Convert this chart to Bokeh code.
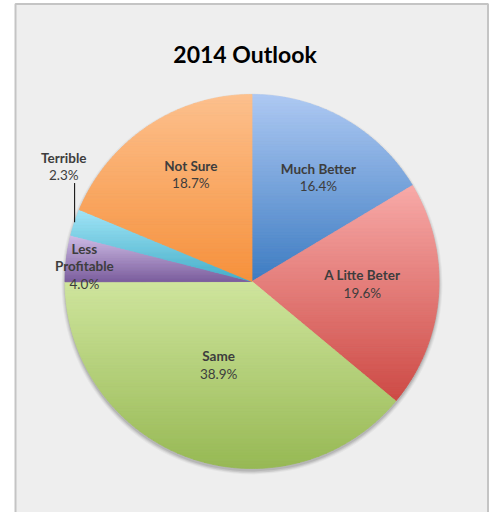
import numpy as np
from bokeh.plotting import figure
from bokeh.models import Range1d, ColumnDataSource, Label
from bokeh.core.properties import value
from bokeh.embed import file_html
from bokeh.resources import INLINE

# ---------------- data ----------------
title_text = "2014 Outlook"
categories = ["Much Better", "A Litte Beter", "Same", "Less Profitable", "Terrible", "Not Sure"]
display_labels = ["Much Better", "A Litte Beter", "Same", "Less\nProfitable", "Terrible", "Not Sure"]
percents = [16.4, 19.6, 38.9, 4.0, 2.3, 18.7]

# ---------------- styles / layout ----------------
light_colors = ["#aec9f3", "#f8aaa8", "#cfe59d", "#d0bee7", "#a2e6f8", "#fdc08d"]
dark_colors = ["#3d7cc2", "#cd4a45", "#97b954", "#7c5e9e", "#44aec9", "#f6913c"]
label_r = [0.66, 0.59, 0.48, 0.90, 1.18, 0.66]      # label distance (fraction of radius)
label_dang = [3.0, -3.0, 2.0, -2.0, 13.0, 4.0]      # label angle shift (degrees)

W, H = 491, 512
OX, OY = 0, 0              # page offset of the figure
CX, CY = 251.5, 281.0      # pie centre on the page (px)
R = 187.0
FONT = "Lato"
TXT = "#3d3d3d"

def px_x(x):
    return x - CX

def px_y(y):
    return CY - y

p = figure(width=W, height=H, output_backend="svg", toolbar_location=None,
           x_range=Range1d(px_x(OX), px_x(OX + W)), y_range=Range1d(px_y(OY + H), px_y(OY)),
           min_border=0, min_border_left=0, min_border_right=0,
           min_border_top=0, min_border_bottom=0)
p.axis.visible = False
p.grid.visible = False
p.outline_line_color = None
p.background_fill_color = "white"
p.border_fill_color = "white"

# chart area (grey panel with border)
p.quad(left=[px_x(15)], right=[px_x(487.5)], top=[px_y(3.5)], bottom=[px_y(540)],
       fill_color="#eeeeee", line_color="#c4c4c4", line_width=2)

# soft shadow under pie
for k, a in [(3.5, 0.04), (2.5, 0.05), (1.5, 0.07), (0.5, 0.09)]:
    p.circle(x=[0], y=[-2.5], radius=R + k, fill_color="black", fill_alpha=a, line_color=None)

def hex2rgb(h):
    h = h.lstrip("#")
    return np.array([int(h[i:i + 2], 16) for i in (0, 2, 4)], dtype=float)

def rgb2hex(c):
    c = np.clip(np.round(c), 0, 255).astype(int)
    return "#%02x%02x%02x" % tuple(c)

def clip_half(poly, y0, keep_above):
    out = []
    n = len(poly)
    for i in range(n):
        a = poly[i]
        b = poly[(i + 1) % n]
        ina = (a[1] >= y0) if keep_above else (a[1] <= y0)
        inb = (b[1] >= y0) if keep_above else (b[1] <= y0)
        if ina:
            out.append(a)
        if ina != inb:
            t = (y0 - a[1]) / (b[1] - a[1])
            out.append((a[0] + t * (b[0] - a[0]), y0))
    return out

total = sum(percents)
fracs = [v / total for v in percents]
starts = np.cumsum([0] + fracs[:-1]) * 2 * np.pi
ends = np.cumsum(fracs) * 2 * np.pi

bx, by, bc = [], [], []
NB = 60
for i in range(len(percents)):
    a0, a1 = starts[i], ends[i]
    n = max(3, int((a1 - a0) / (2 * np.pi) * 720))
    th = np.linspace(a0, a1, n)
    poly = [(0.0, 0.0)] + [(R * np.sin(t), R * np.cos(t)) for t in th]
    ys = [q[1] for q in poly]
    ymax, ymin = max(ys), min(ys)
    c0, c1 = hex2rgb(light_colors[i]), hex2rgb(dark_colors[i])
    edges = np.linspace(ymax, ymin, NB + 1)
    for j in range(NB):
        top, bot = edges[j], edges[j + 1]
        pc = clip_half(poly, top, keep_above=False)
        if len(pc) < 3:
            continue
        pc = clip_half(pc, bot, keep_above=True)
        if len(pc) < 3:
            continue
        t = (j + 0.5) / NB
        col = rgb2hex(c0 + (c1 - c0) * t)
        bx.append([q[0] for q in pc])
        by.append([q[1] for q in pc])
        bc.append(col)

p.patches(xs="xs", ys="ys", source=ColumnDataSource(dict(xs=bx, ys=by, c=bc)),
          fill_color="c", line_color="c", line_width=0.8)

# labels
LH = 17.5
bold_x, bold_y, bold_t = [], [], []
norm_x, norm_y, norm_t = [], [], []
lead_x0, lead_y0, lead_x1, lead_y1 = [], [], [], []
for i in range(len(percents)):
    mid = (starts[i] + ends[i]) / 2
    ang = mid + np.radians(label_dang[i])
    lx = label_r[i] * R * np.sin(ang)
    ly = label_r[i] * R * np.cos(ang)
    lines = display_labels[i].split("\n")
    L = len(lines) + 1
    for k, s in enumerate(lines):
        bold_x.append(lx)
        bold_y.append(ly + (L - 1) * LH / 2 - k * LH)
        bold_t.append(s)
    norm_x.append(lx)
    norm_y.append(ly + (L - 1) * LH / 2 - (L - 1) * LH)
    norm_t.append(f"{percents[i]:.1f}%")
    if label_r[i] > 1:
        ex, ey = R * np.sin(mid), R * np.cos(mid)
        lead_x0.append(ex)
        lead_y0.append(ey)
        lead_x1.append(ex)
        lead_y1.append(norm_y[-1] - 8)

p.segment(x0=lead_x0, y0=lead_y0, x1=lead_x1, y1=lead_y1, line_color="black", line_width=1)

p.text(x="x", y="y", text="t", source=ColumnDataSource(dict(x=bold_x, y=bold_y, t=bold_t)),
       text_font=value(FONT), text_font_style="bold", text_font_size="13.5px",
       text_color=TXT, text_align="center", text_baseline="middle")
p.text(x="x", y="y", text="t", source=ColumnDataSource(dict(x=norm_x, y=norm_y, t=norm_t)),
       text_font=value(FONT), text_font_size="13.5px",
       text_color=TXT, text_align="center", text_baseline="middle")

p.add_layout(Label(x=px_x(244.5), y=px_y(53), text=title_text, text_font=FONT,
                   text_font_style="bold", text_font_size="23px", text_color="black",
                   text_align="center", text_baseline="middle"))

open("out.html", "w").write(file_html(p, INLINE))
